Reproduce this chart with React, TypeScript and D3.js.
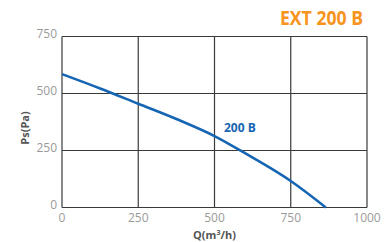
import React from 'react'
import * as d3 from 'd3'

const flow = [0, 125, 250, 375, 500, 600, 750, 865]
const pressure = [585, 522, 455, 388, 313, 238, 116, 0]
const xTicks = [0, 250, 500, 750, 1000]
const yTicks = [0, 250, 500, 750]

const App = () => {
  const width = 385
  const height = 242
  const margin = { top: 36.5, right: 18, bottom: 34.5, left: 62 }

  const x = d3
    .scaleLinear()
    .domain([0, 1000])
    .range([margin.left, width - margin.right])
  const y = d3
    .scaleLinear()
    .domain([0, 750])
    .range([height - margin.bottom, margin.top])

  const line = d3
    .line<number>()
    .x((d, i) => x(flow[i]))
    .y((d) => y(d))
    .curve(d3.curveMonotoneX)

  const font = "'Open Sans', sans-serif"

  return (
    <svg
      width={width}
      height={height}
      style={{ position: 'absolute', left: 0, top: 0 }}
    >
      <rect width={width} height={height} fill="#fff" />
      {xTicks.map((t) => (
        <line
          key={'gx' + t}
          x1={x(t)}
          x2={x(t)}
          y1={y(0)}
          y2={y(750)}
          stroke="#3a3a3a"
          strokeWidth={1.2}
        />
      ))}
      {yTicks.map((t) => (
        <line
          key={'gy' + t}
          x1={x(0)}
          x2={x(1000)}
          y1={y(t)}
          y2={y(t)}
          stroke="#3a3a3a"
          strokeWidth={1.2}
        />
      ))}
      {xTicks.map((t) => (
        <text
          key={'tx' + t}
          x={x(t)}
          y={222}
          textAnchor="middle"
          fontFamily={font}
          fontSize={12}
          fill="#9a9a9a"
        >
          {t}
        </text>
      ))}
      {yTicks.map((t) => (
        <text
          key={'ty' + t}
          x={57}
          y={y(t) - 3}
          dy="0.35em"
          textAnchor="end"
          fontFamily={font}
          fontSize={12}
          fill="#9a9a9a"
        >
          {t}
        </text>
      ))}
      <path
        d={line(pressure) || ''}
        fill="none"
        stroke="#1565b3"
        strokeWidth={2.6}
      />
      <text
        x={224}
        y={132}
        fontFamily={font}
        fontSize={12}
        fontWeight="bold"
        fill="#1565b3"
      >
        200 B
      </text>
      <text
        x={280}
        y={25}
        textLength={83}
        lengthAdjust="spacingAndGlyphs"
        fontFamily={font}
        fontSize={20}
        fontWeight="bold"
        fill="#f7941d"
      >
        EXT 200 B
      </text>
      <text
        transform={`translate(29, ${y(375) + 6}) rotate(-90)`}
        textAnchor="middle"
        fontFamily={font}
        fontSize={11}
        fontWeight="bold"
        fill="#555"
      >
        Ps(Pa)
      </text>
      <text
        x={x(500)}
        y={239}
        textAnchor="middle"
        fontFamily={font}
        fontSize={11}
        fontWeight="bold"
        fill="#555"
      >
        Q(m<tspan dy={-4} fontSize={7}>3</tspan>
        <tspan dy={4}>/h)</tspan>
      </text>
    </svg>
  )
}

export default App
